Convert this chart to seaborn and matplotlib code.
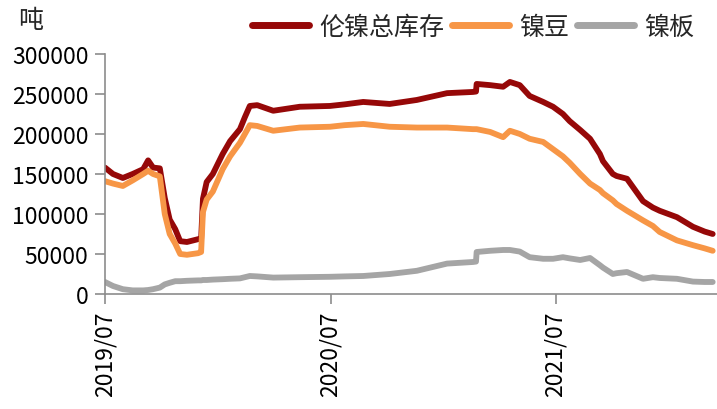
import matplotlib
matplotlib.use("Agg")
import matplotlib.pyplot as plt
import seaborn as sns
import pandas as pd
from matplotlib.lines import Line2D

dates = ["2019-07-01", "2019-07-14", "2019-07-30", "2019-08-15", "2019-09-01", "2019-09-09",
         "2019-09-17", "2019-09-28", "2019-10-06", "2019-10-14", "2019-10-23", "2019-10-31",
         "2019-11-11", "2019-11-29", "2019-12-04", "2019-12-07", "2019-12-13", "2019-12-23",
         "2020-01-08", "2020-01-20", "2020-02-05", "2020-02-13", "2020-02-21", "2020-03-04",
         "2020-03-30", "2020-05-12", "2020-06-30", "2020-07-24", "2020-08-23", "2020-10-05",
         "2020-11-18", "2021-01-06", "2021-02-17", "2021-02-22", "2021-02-23", "2021-03-17",
         "2021-04-07", "2021-04-18", "2021-05-04", "2021-05-20", "2021-06-11", "2021-06-27",
         "2021-07-13", "2021-07-24", "2021-08-10", "2021-08-26", "2021-09-11", "2021-09-16",
         "2021-10-02", "2021-10-08", "2021-10-25", "2021-11-20", "2021-12-06", "2021-12-17",
         "2022-01-14", "2022-02-09", "2022-02-28", "2022-03-13"]

total = [158000, 150000, 145000, 150000, 156000, 167000,
         158000, 157000, 120000, 93000, 81000, 66000,
         65000, 68500, 69000, 119000, 140000, 150000,
         175000, 191000, 206000, 221000, 235000, 236000,
         229000, 234000, 235000, 237000, 240000, 237500,
         242500, 251000, 252500, 253000, 262500, 261000,
         259000, 265000, 261000, 247500, 240000, 234000,
         225000, 216000, 205000, 194000, 175000, 166000,
         150000, 147500, 144000, 116000, 108000, 104000,
         96000, 84000, 78000, 75000]

beans = [141000, 138000, 135000, 142000, 150000, 154000,
         150000, 147000, 100000, 75000, 63000, 50000,
         49000, 51000, 52500, 102500, 118000, 128000,
         156000, 172000, 189000, 200000, 211000, 210000,
         204000, 208000, 209000, 211000, 212500, 209000,
         208000, 208000, 206000, 206000, 206000, 202500,
         196000, 204000, 200000, 194000, 190000, 181000,
         172000, 164000, 150000, 138000, 130000, 126000,
         117000, 112500, 104000, 92000, 85000, 77500,
         67000, 61000, 57000, 54000]

plates = [15000, 10000, 6000, 4500, 4500, 5000,
          6000, 8000, 12000, 14000, 16000, 16000,
          16500, 17000, 17000, 17500, 17500, 18000,
          18500, 19000, 19500, 21000, 22500, 22000,
          20500, 21000, 21500, 22000, 22500, 25000,
          29000, 38000, 40000, 40500, 52500, 54000,
          55000, 55000, 53000, 46000, 44000, 44000,
          46000, 44500, 42500, 45000, 36000, 33000,
          25000, 26000, 27500, 19000, 21000, 20000,
          19000, 15500, 15000, 15000]

series_names = ["伦镍总库存", "镍豆", "镍板"]
colors = ["#960808", "#F79646", "#A5A5A5"]
yticks = [0, 50000, 100000, 150000, 200000, 250000, 300000]
xtick_dates = ["2019-07-01", "2020-07-01", "2021-07-01"]
xtick_labels = ["2019/07", "2020/07", "2021/07"]

d = pd.to_datetime(dates)
df = pd.concat([
    pd.DataFrame({"date": d, "value": total, "series": series_names[0]}),
    pd.DataFrame({"date": d, "value": beans, "series": series_names[1]}),
    pd.DataFrame({"date": d, "value": plates, "series": series_names[2]}),
])

sns.set_style("white")
plt.rcParams["font.family"] = ["Noto Sans CJK SC", "DejaVu Sans"]

fig = plt.figure(figsize=(7.17, 4.10), dpi=100)
ax = fig.add_axes([0.1464, 0.2805, 0.8536, 0.5855])

sns.lineplot(data=df, x="date", y="value", hue="series", hue_order=series_names,
             palette=colors, linewidth=4.2, ax=ax, legend=False)

ax.set_ylim(0, 300000)
ax.set_xlim(pd.Timestamp("2019-07-01"), pd.Timestamp("2022-03-20"))
ax.set_yticks(yticks)
ax.set_yticklabels([str(v) for v in yticks])
ax.set_xticks(pd.to_datetime(xtick_dates))
ax.set_xticklabels(xtick_labels, rotation=90)
ax.set_xlabel("")
ax.set_ylabel("")

for s in ["top", "right"]:
    ax.spines[s].set_visible(False)
for s in ["left", "bottom"]:
    ax.spines[s].set_color("#8C8C8C")
    ax.spines[s].set_linewidth(1.2)
ax.tick_params(axis="both", which="major", direction="out", length=7, width=1.2,
               color="#8C8C8C", labelsize=16.5, labelcolor="#000000", pad=5)
ax.tick_params(axis="y", left=True)
ax.tick_params(axis="x", bottom=True)

handles = [Line2D([0], [0], color=c, lw=5, solid_capstyle="round") for c in colors]
fig.legend(handles, series_names, loc="center right", bbox_to_anchor=(0.968, 0.932),
           ncol=3, frameon=False, fontsize=18, handlelength=2.3, handletextpad=0.4,
           columnspacing=0.3, borderpad=0, borderaxespad=0)

fig.text(0.043, 0.95, "吨", ha="center", va="center", fontsize=18)

fig.savefig("out.png", dpi=100, facecolor="white")
